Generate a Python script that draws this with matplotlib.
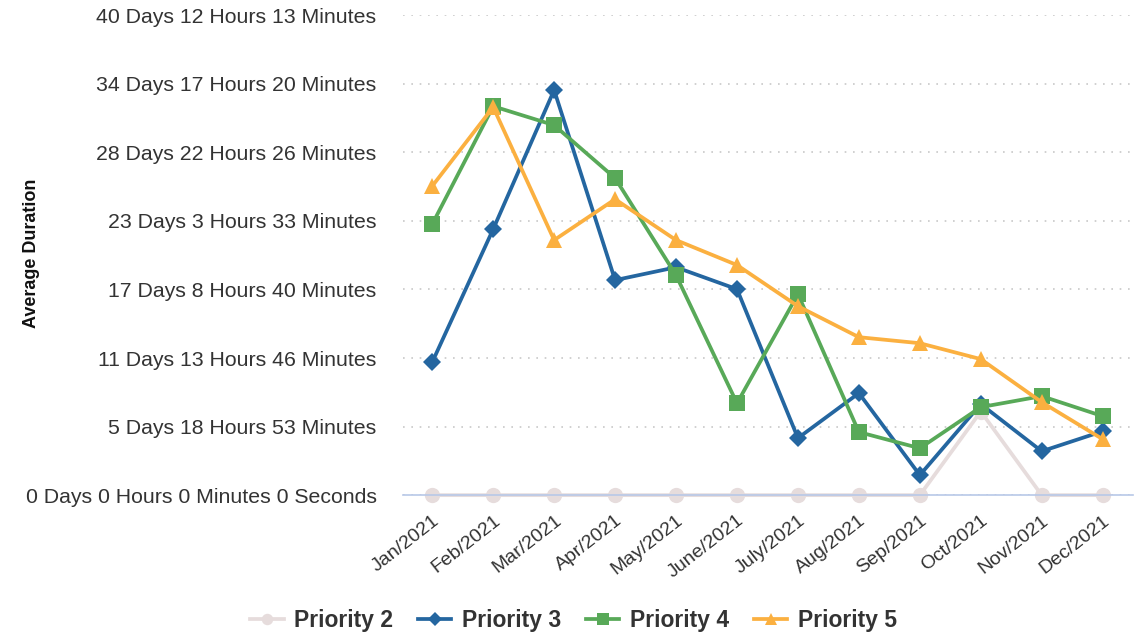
import matplotlib.pyplot as plt
from matplotlib.ticker import FuncFormatter, MultipleLocator

months = ['Jan/2021', 'Feb/2021', 'Mar/2021', 'Apr/2021', 'May/2021', 'June/2021',
          'July/2021', 'Aug/2021', 'Sep/2021', 'Oct/2021', 'Nov/2021', 'Dec/2021']

# average duration per month, in seconds
priority2 = [0, 0, 0, 0, 0, 0, 0, 0, 0, 610000, 0, 0]
priority3 = [970000, 1940000, 2954000, 1568000, 1662000, 1502000,
             416000, 744000, 146000, 664000, 320000, 466000]
priority4 = [1976000, 2836000, 2698000, 2312000, 1604000, 670000,
             1466000, 460000, 342000, 642000, 722000, 576000]
priority5 = [2254000, 2830000, 1860000, 2158000, 1860000, 1678000,
             1378000, 1152000, 1108000, 992000, 678000, 408000]


def fmt_duration(sec, pos):
    sec = int(round(sec))
    d, rest = divmod(sec, 86400)
    h, rest = divmod(rest, 3600)
    m, s = divmod(rest, 60)
    if sec == 0:
        return '0 Days 0 Hours 0 Minutes 0 Seconds'
    return f'{d} Days {h} Hours {m} Minutes'


plt.rcParams['font.family'] = ['Liberation Sans', 'DejaVu Sans']

fig = plt.figure(figsize=(11.4, 6.34), dpi=100)
ax = fig.add_axes([0.3535, 0.219, 0.6405, 0.757])

x = list(range(len(months)))
series = [
    ('Priority 2', priority2, '#e6dcdc', 'o', 11),
    ('Priority 3', priority3, '#2466a0', 'D', 9),
    ('Priority 4', priority4, '#58a958', 's', 11.5),
    ('Priority 5', priority5, '#fbb040', '^', 12),
]
for name, vals, col, mk, ms in series:
    ax.plot(x, vals, color=col, lw=2.7, marker=mk, markersize=ms,
            markeredgewidth=0, label=name, clip_on=False)

ax.set_xlim(-0.48, 11.5)
ax.set_ylim(0, 3500000)
ax.yaxis.set_major_locator(MultipleLocator(500000))
ax.yaxis.set_major_formatter(FuncFormatter(fmt_duration))
ax.grid(axis='y', color='#c8c8c8', linestyle=(0, (1, 4)), linewidth=1.2)
ax.set_axisbelow(True)

for side in ['top', 'right', 'left']:
    ax.spines[side].set_visible(False)
ax.spines['bottom'].set_color('#b8c8e8')
ax.spines['bottom'].set_linewidth(1.2)

ax.set_xticks(x)
ax.set_xticklabels(months, rotation=38, ha='right', rotation_mode='anchor')
ax.tick_params(axis='x', length=0, pad=12, labelsize=14, labelcolor='#333333')
ax.tick_params(axis='y', length=0, pad=19, labelsize=15.3, labelcolor='#333333')

fig.text(0.028, 0.6, 'Average Duration', rotation=90, ha='center', va='center',
         fontsize=13, fontweight='bold', color='#111111')

leg = fig.legend(loc='center', bbox_to_anchor=(0.503, 0.022), ncol=4, frameon=False,
                 prop={'weight': 'bold', 'size': 16.5}, handlelength=1.45, columnspacing=1.1,
                 handletextpad=0.45, markerscale=0.75)
for t in leg.get_texts():
    t.set_color('#333333')

fig.savefig('out.png', dpi=100)
